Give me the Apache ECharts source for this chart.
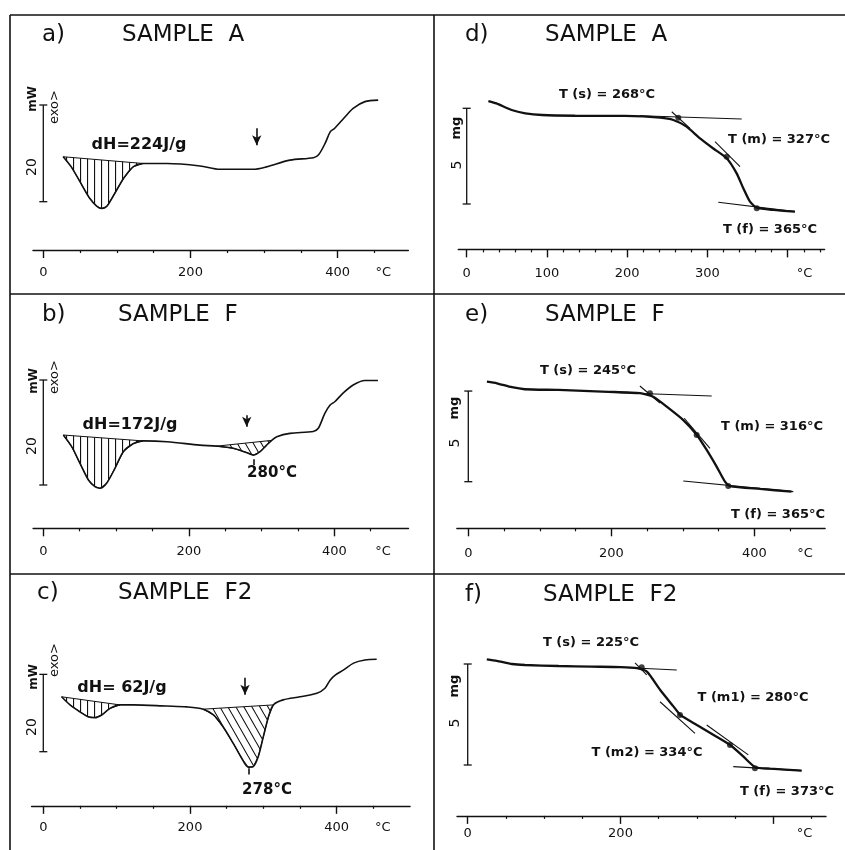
<!DOCTYPE html>
<html>
<head>
<meta charset="utf-8">
<script src="https://cdn.jsdelivr.net/npm/echarts@6/dist/echarts.min.js"></script>
<style>
  html, body { margin: 0; padding: 0; background: #fff; }
  #chart { width: 845px; height: 850px; }
</style>
</head>
<body>
<div id="chart"></div>
<script>
// ---------- DSC curves: temperature (°C) / heat flow (mW, scale bar = 20 mW) ----------
const dscATemp = [27, 38, 50, 63, 72.5, 79, 86, 97, 109, 122, 136, 168, 213, 240, 285, 303, 335, 367, 374, 383, 390, 396, 408, 421, 437, 455];
const dscAHeat = [9.3, 7.2, 4.1, 0.7, -0.9, -1.4, -1.0, 1.7, 4.8, 7.2, 7.9, 7.9, 7.4, 6.7, 6.7, 7.2, 8.6, 9.1, 9.7, 12.1, 14.5, 15.2, 17.2, 19.3, 20.7, 21.0];

const dscFTemp = [27.5, 39, 50.4, 62, 71, 78, 87, 98.6, 110, 124, 137, 170, 215, 238, 261, 280, 289, 298, 307, 314, 321, 339, 371, 378, 387, 394, 401, 412, 426, 442, 460];
const dscFHeat = [9.52, 7.3, 4.13, 0.95, -0.32, -0.63, 0.32, 3.2, 6.35, 7.9, 8.4, 8.25, 7.6, 7.4, 7.0, 6.15, 5.7, 6.35, 7.6, 8.5, 9.2, 9.84, 10.2, 10.8, 13.65, 15.2, 15.9, 17.5, 19.05, 19.9, 19.9];

const dscF2Temp = [25, 36.4, 50, 61, 70.5, 79.6, 91, 104.6, 123, 168, 195.5, 218, 232, 245, 259, 270.5, 279.5, 286, 293, 300, 307, 313.6, 327, 350, 373, 384, 391, 398, 409, 423, 438.5, 454.5];
const dscF2Heat = [14.2, 12.1, 10.3, 9.05, 8.8, 9.5, 11.2, 12.1, 12.1, 11.8, 11.6, 11.0, 9.5, 6.46, 2.15, -1.7, -4.0, -3.9, -1.3, 3.9, 9.05, 12.1, 13.4, 14.2, 15.1, 16.4, 18.5, 19.8, 21.1, 22.9, 23.7, 23.9];

// hatched (integrated) peaks: [from, to] in °C
const dscAMeltHatch = [[27, 136]];
const dscFMeltHatch = [[27.5, 137]];
const dscFPeakHatch = [[238, 314]];
const dscF2MeltHatch = [[25, 104.6]];
const dscF2PeakHatch = [[218, 313.6]];

const dscEnthalpy = [224, 172, 62];           // J/g
const dscArrows = [[290, 15.2, 11.7], [279.6, 13.3, 11.1], [275, 19.1, 14.7]];  // [T, from, to]
const dscPeakTemps = [null, 280, 278];
const dscPeakTicks = [null, [289, 4.9, 3.8], [279.5, -4.3, -5.9]];
const dscScaleBar = [0, 0, 20];               // [T, from, to] = 20 mW
const dscMajorTicks = [0, 200, 400];
const dscMinorTicks = [50, 100, 150, 250, 300, 350, 450];
const dscTickLabels = [0, 200, 400];

// ---------- TGA curves: temperature (°C) / mass (mg, scale bar = 5 mg) ----------
const tgaATemp = [27, 37, 56, 73, 94, 135, 197, 241, 257.5, 274, 290.7, 307.3, 324, 336.4, 344.7, 353, 361.4, 382, 409];
const tgaAMass = [5.38, 5.26, 4.91, 4.74, 4.65, 4.61, 4.60, 4.51, 4.39, 4.04, 3.43, 2.90, 2.39, 1.60, 0.82, 0.12, -0.19, -0.31, -0.40];
const tgaATangents = [[216, 4.61, 342.7, 4.44], [255.5, 4.82, 278.3, 3.95], [309.4, 3.26, 340.6, 1.95], [313.5, 0.09, 409, -0.40]];
const tgaAMarkTemp = [263.7, 324, 361.4];
const tgaAMarkMass = [4.51, 2.47, -0.22];
const tgaASteps = ['s', 'm', 'f'];
const tgaAStepTemps = [268, 327, 365];

const tgaFTemp = [26, 40, 61, 79, 126, 196, 240, 258.7, 277.5, 300.7, 319.4, 333.4, 347.3, 359, 366, 408, 452];
const tgaFMass = [5.52, 5.43, 5.21, 5.10, 5.06, 4.96, 4.88, 4.69, 4.14, 3.40, 2.59, 1.75, 0.83, 0.0, -0.24, -0.40, -0.55];
const tgaFTangents = [[212, 4.91, 340.4, 4.73], [240, 5.28, 268, 4.34], [302, 3.50, 338, 1.84], [300.7, 0.04, 454.5, -0.55]];
const tgaFMarkTemp = [254, 319.4, 363.6];
const tgaFMarkMass = [4.88, 2.58, -0.24];
const tgaFSteps = ['s', 'm', 'f'];
const tgaFStepTemps = [245, 316, 365];

const tgaF2Temp = [25, 38, 58, 75, 119, 162, 200, 221.5, 234.6, 252, 269.5, 278.3, 300, 321.9, 343.7, 361, 376.4, 396, 437];
const tgaF2Mass = [5.23, 5.16, 5.0, 4.95, 4.90, 4.87, 4.85, 4.80, 4.62, 3.71, 2.89, 2.48, 1.98, 1.49, 0.99, 0.41, -0.11, -0.18, -0.28];
const tgaF2Tangents = [[199.3, 4.84, 273.6, 4.70], [219, 5.06, 234.3, 4.46], [251.7, 3.13, 297.5, 1.57], [312.8, 1.98, 367.3, 0.50], [347.6, -0.08, 437, -0.28]];
const tgaF2MarkTemp = [227.7, 277.9, 343.3, 376];
const tgaF2MarkMass = [4.84, 2.48, 0.99, -0.16];
const tgaF2Steps = ['s', 'm1', 'm2', 'f'];
const tgaF2StepTemps = [225, 280, 334, 373];

const tgaScaleBar = [0, 0, 5];
const sampleNames = ['A', 'F', 'F2'];

// ---------- styling ----------
const INK = '#111';
const FONT = '"DejaVu Sans", "Liberation Sans", sans-serif';

function makeHatch(kind) {
    const c = document.createElement('canvas');
    const g = c.getContext('2d');
    if (kind === 'vertical') {
        c.width = 7; c.height = 4;
        g.fillStyle = INK;
        g.fillRect(3, 0, 1.1, 4);
    } else {
        c.width = 8; c.height = 14;
        g.strokeStyle = INK;
        g.lineWidth = 1.1;
        g.beginPath();
        [-8, 0, 8].forEach(o => { g.moveTo(o, 0); g.lineTo(o + 8, 14); });
        g.stroke();
    }
    return c;
}
const vHatch = makeHatch('vertical');
const dHatch = makeHatch('diagonal');

// panel geometry: pixel of T=0 / px per °C, pixel of value 0 / px per unit
const panels = [
    { x0: 43.3, kx: 0.736, y0: 201.7, ky: 4.835, xmin: -14, xmax: 496, ymin: -10, ymax: 26, unitAt: 462, margin: 16 },
    { x0: 43.3, kx: 0.7275, y0: 485, ky: 5.25, xmin: -14, xmax: 502, ymin: -8.25, ymax: 26, unitAt: 467, margin: 17 },
    { x0: 43.3, kx: 0.7335, y0: 751.7, ky: 3.867, xmin: -16, xmax: 500, ymin: -14, ymax: 28, unitAt: 463, margin: 15 },
    { x0: 466.7, kx: 0.8025, y0: 204, ky: 19.14, xmin: -10.5, xmax: 446, ymin: -2.37, ymax: 6, unitAt: 421, margin: 18 },
    { x0: 468.3, kx: 0.715, y0: 481.7, ky: 18.13, xmin: -16, xmax: 499, ymin: -2.57, ymax: 6, unitAt: 471, margin: 19 },
    { x0: 467.7, kx: 0.764, y0: 765, ky: 20.2, xmin: -14, xmax: 469, ymin: -2.52, ymax: 6, unitAt: 441, margin: 11 }
];

const grids = [], xAxes = [], yAxes = [], series = [], graphics = [];

function zip(a, b) { return a.map((v, k) => [v, b[k]]); }

function addAxes(i, p, major, minor, labels) {
    grids.push({
        left: p.x0 + p.kx * p.xmin,
        top: p.y0 - p.ky * p.ymax,
        width: p.kx * (p.xmax - p.xmin),
        height: p.ky * (p.ymax - p.ymin)
    });
    xAxes.push({
        gridIndex: i, type: 'value', min: p.xmin, max: p.xmax, position: 'bottom',
        axisLine: { show: true, onZero: false, lineStyle: { color: INK, width: 1.4 } },
        axisTick: { show: true, customValues: major, length: 8, lineStyle: { color: INK, width: 1.4 } },
        axisLabel: {
            customValues: labels.concat([p.unitAt]),
            formatter: v => (v === p.unitAt ? '°C' : String(v)),
            margin: p.margin, color: INK, fontSize: 13, fontFamily: FONT
        },
        splitLine: { show: false }
    });
    xAxes.push({
        gridIndex: i, type: 'value', min: p.xmin, max: p.xmax, position: 'bottom',
        axisLine: { show: false, onZero: false },
        axisTick: { show: true, customValues: minor, length: 3, lineStyle: { color: INK, width: 1.2 } },
        axisLabel: { show: false },
        splitLine: { show: false }
    });
    yAxes.push({ gridIndex: i, type: 'value', min: p.ymin, max: p.ymax, show: false });
}

function scaleBarSeries(i, bar) {
    return {
        type: 'custom', xAxisIndex: 2 * i, yAxisIndex: i, silent: true, z: 2,
        data: [bar],
        renderItem: (params, api) => {
            const top = api.coord([api.value(0), bar[2]]);
            const bot = api.coord([api.value(0), bar[1]]);
            const st = { stroke: INK, lineWidth: 1.3 };
            return {
                type: 'group', children: [
                    { type: 'line', shape: { x1: top[0], y1: top[1], x2: bot[0], y2: bot[1] }, style: st },
                    { type: 'line', shape: { x1: top[0] - 4, y1: top[1], x2: top[0] + 4, y2: top[1] }, style: st },
                    { type: 'line', shape: { x1: bot[0] - 4, y1: bot[1], x2: bot[0] + 4, y2: bot[1] }, style: st }
                ]
            };
        }
    };
}

// hatched area between the curve and the straight baseline joining its ends
function hatchSeries(i, ranges, temps, values, pattern) {
    return {
        type: 'custom', xAxisIndex: 2 * i, yAxisIndex: i, silent: true, z: 1,
        data: ranges,
        renderItem: (params, api) => {
            const t0 = api.value(0), t1 = api.value(1);
            const pts = [];
            temps.forEach((t, k) => { if (t >= t0 && t <= t1) pts.push(api.coord([t, values[k]])); });
            return {
                type: 'polygon', shape: { points: pts },
                style: { fill: { image: pattern, repeat: 'repeat' }, stroke: INK, lineWidth: 1 }
            };
        }
    };
}

function text(x, y, str, size, opts) {
    opts = opts || {};
    graphics.push({
        type: 'text', x: x, y: y, rotation: opts.rotate || 0, silent: true,
        style: {
            text: str, fill: INK, fontFamily: FONT, fontSize: size,
            fontWeight: opts.bold ? 'bold' : 'normal',
            align: opts.align || 'center', verticalAlign: 'middle'
        }
    });
}

// ---------- DSC panels a) b) c) ----------
const dsc = [
    { temps: dscATemp, heat: dscAHeat, hatch: [[dscAMeltHatch, vHatch]] },
    { temps: dscFTemp, heat: dscFHeat, hatch: [[dscFMeltHatch, vHatch], [dscFPeakHatch, dHatch]] },
    { temps: dscF2Temp, heat: dscF2Heat, hatch: [[dscF2MeltHatch, vHatch], [dscF2PeakHatch, dHatch]] }
];
const dscText = [
    { tag: [42, 35], title: [122, 35], mw: [33, 99], exo: [55, 107], twenty: [32, 167], dh: [139, 145], peak: null },
    { tag: [42, 315], title: [118, 315], mw: [34, 381], exo: [55, 377], twenty: [32, 446], dh: [130, 425], peak: [272, 473] },
    { tag: [37, 593], title: [118, 593], mw: [34, 677], exo: [55, 660], twenty: [32, 727], dh: [122, 688], peak: [267, 790] }
];

dsc.forEach((d, i) => {
    addAxes(i, panels[i], dscMajorTicks, dscMinorTicks, dscTickLabels);
    d.hatch.forEach(h => series.push(hatchSeries(i, h[0], d.temps, d.heat, h[1])));
    const marks = [[
        { coord: [dscArrows[i][0], dscArrows[i][1]], symbol: 'none' },
        { coord: [dscArrows[i][0], dscArrows[i][2]], symbol: 'arrow' }
    ]];
    if (dscPeakTicks[i]) {
        marks.push([
            { coord: [dscPeakTicks[i][0], dscPeakTicks[i][1]], symbol: 'none' },
            { coord: [dscPeakTicks[i][0], dscPeakTicks[i][2]], symbol: 'none' }
        ]);
    }
    series.push({
        type: 'line', xAxisIndex: 2 * i, yAxisIndex: i, z: 3,
        data: zip(d.temps, d.heat), smooth: 0.3, symbol: 'none',
        lineStyle: { color: INK, width: 1.6 },
        markLine: {
            silent: true, symbolSize: [7, 10], label: { show: false },
            lineStyle: { color: INK, width: 1.6, type: 'solid' },
            data: marks
        }
    });
    series.push(scaleBarSeries(i, dscScaleBar));

    const t = dscText[i];
    text(t.tag[0], t.tag[1], ['a)', 'b)', 'c)'][i], 23, { align: 'left' });
    text(t.title[0], t.title[1], 'SAMPLE  ' + sampleNames[i], 23, { align: 'left' });
    text(t.mw[0], t.mw[1], 'mW', 12, { bold: true, rotate: Math.PI / 2 });
    text(t.exo[0], t.exo[1], 'exo>', 13, { rotate: Math.PI / 2 });
    text(t.twenty[0], t.twenty[1], String(dscScaleBar[2]), 14, { rotate: Math.PI / 2 });
    text(t.dh[0], t.dh[1], 'dH=' + String(dscEnthalpy[i]).padStart(3, ' ') + 'J/g', 16, { bold: true });
    if (t.peak) text(t.peak[0], t.peak[1], dscPeakTemps[i] + '°C', 15, { bold: true });
});

// ---------- TGA panels d) e) f) ----------
const tga = [
    { temps: tgaATemp, mass: tgaAMass, tan: tgaATangents, mt: tgaAMarkTemp, mm: tgaAMarkMass, steps: tgaASteps, st: tgaAStepTemps,
      major: [0, 100, 200, 300, 400], minor: [20, 40, 60, 80, 120, 140, 160, 180, 220, 240, 260, 280, 320, 340, 360, 380, 420, 440], labels: [0, 100, 200, 300] },
    { temps: tgaFTemp, mass: tgaFMass, tan: tgaFTangents, mt: tgaFMarkTemp, mm: tgaFMarkMass, steps: tgaFSteps, st: tgaFStepTemps,
      major: [0, 200, 400], minor: [50, 100, 150, 250, 300, 350, 450], labels: [0, 200, 400] },
    { temps: tgaF2Temp, mass: tgaF2Mass, tan: tgaF2Tangents, mt: tgaF2MarkTemp, mm: tgaF2MarkMass, steps: tgaF2Steps, st: tgaF2StepTemps,
      major: [0, 200, 400], minor: [50, 100, 150, 250, 300, 350, 450], labels: [0, 200] }
];
const tgaText = [
    { tag: [465, 35], title: [545, 35], mg: [457, 128], five: [457, 165], steps: [[607, 95], [779, 140], [770, 230]] },
    { tag: [465, 315], title: [545, 315], mg: [455, 408], five: [455, 443], steps: [[588, 371], [772, 427], [778, 515]] },
    { tag: [465, 595], title: [543, 595], mg: [455, 686], five: [455, 723], steps: [[591, 643], [753, 698], [647, 753], [787, 792]] }
];

tga.forEach((d, j) => {
    const i = j + 3;
    addAxes(i, panels[i], d.major, d.minor, d.labels);
    series.push({
        type: 'custom', xAxisIndex: 2 * i, yAxisIndex: i, silent: true, z: 2,
        data: d.tan,
        renderItem: (params, api) => {
            const a = api.coord([api.value(0), api.value(1)]);
            const b = api.coord([api.value(2), api.value(3)]);
            return { type: 'line', shape: { x1: a[0], y1: a[1], x2: b[0], y2: b[1] }, style: { stroke: INK, lineWidth: 1.1 } };
        }
    });
    series.push({
        type: 'line', xAxisIndex: 2 * i, yAxisIndex: i, z: 3,
        data: zip(d.temps, d.mass), smooth: 0.2, symbol: 'none',
        lineStyle: { color: INK, width: 2.3 }
    });
    series.push({
        type: 'scatter', xAxisIndex: 2 * i, yAxisIndex: i, z: 4, silent: true,
        data: zip(d.mt, d.mm), symbol: 'circle', symbolSize: 6,
        itemStyle: { color: INK }
    });
    series.push(scaleBarSeries(i, tgaScaleBar));

    const t = tgaText[j];
    text(t.tag[0], t.tag[1], ['d)', 'e)', 'f)'][j], 23, { align: 'left' });
    text(t.title[0], t.title[1], 'SAMPLE  ' + sampleNames[j], 23, { align: 'left' });
    text(t.mg[0], t.mg[1], 'mg', 13, { bold: true, rotate: Math.PI / 2 });
    text(t.five[0], t.five[1], String(tgaScaleBar[2]), 14, { rotate: Math.PI / 2 });
    d.steps.forEach((s, k) => {
        text(t.steps[k][0], t.steps[k][1], 'T (' + s + ') = ' + d.st[k] + '°C', 13, { bold: true });
    });
});

// ---------- frame ----------
[[10, 15, 845, 15], [10, 15, 10, 850], [434, 15, 434, 850], [10, 294, 845, 294], [10, 574, 845, 574]].forEach(l => {
    graphics.push({ type: 'line', silent: true, shape: { x1: l[0], y1: l[1], x2: l[2], y2: l[3] }, style: { stroke: INK, lineWidth: 1.6 } });
});

const chart = echarts.init(document.getElementById('chart'));
chart.setOption({
    animation: false,
    backgroundColor: '#fff',
    grid: grids,
    xAxis: xAxes,
    yAxis: yAxes,
    series: series,
    graphic: graphics
});
</script>
</body>
</html>
